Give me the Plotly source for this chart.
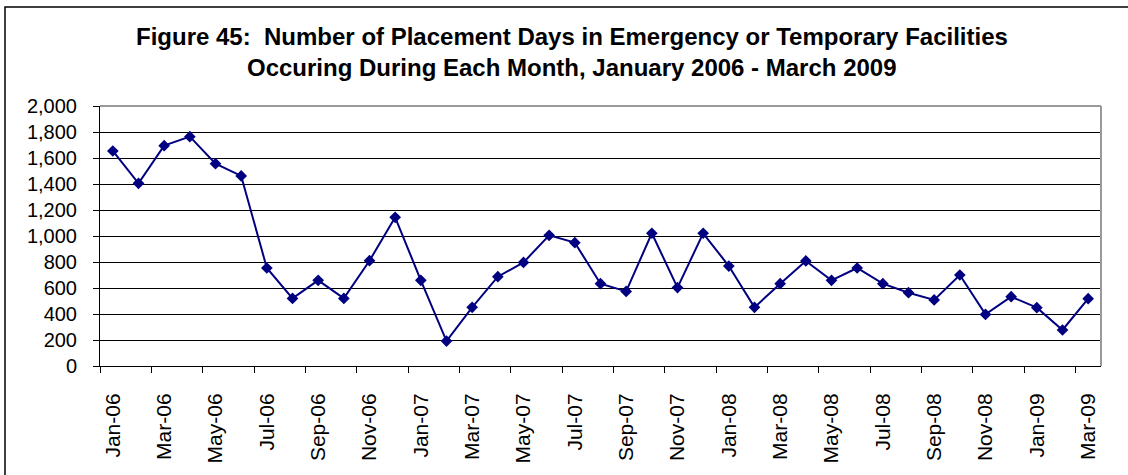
import plotly.graph_objects as go

months = ["Jan-06","Feb-06","Mar-06","Apr-06","May-06","Jun-06","Jul-06","Aug-06","Sep-06","Oct-06","Nov-06","Dec-06",
          "Jan-07","Feb-07","Mar-07","Apr-07","May-07","Jun-07","Jul-07","Aug-07","Sep-07","Oct-07","Nov-07","Dec-07",
          "Jan-08","Feb-08","Mar-08","Apr-08","May-08","Jun-08","Jul-08","Aug-08","Sep-08","Oct-08","Nov-08","Dec-08",
          "Jan-09","Feb-09","Mar-09"]
days = [1654, 1405, 1695, 1764, 1556, 1462, 754, 520, 659, 520, 810, 1144,
        659, 192, 451, 687, 797, 1005, 949, 633, 574, 1021, 603, 1021,
        769, 451, 633, 808, 659, 754, 633, 564, 508, 700, 397, 533,
        449, 277, 518]
title_line1 = "Figure 45:  Number of Placement Days in Emergency or Temporary Facilities"
title_line2 = "Occuring During Each Month, January 2006 - March 2009"
y_ticks = list(range(0, 2001, 200))

W, H = 1128, 475
L, R, T, B = 100, 27, 106, 109
pw, ph = W - L - R, H - T - B

def px(x):
    return (x - L) / pw

def py(y):
    return (H - B - y) / ph

font = "Arial, Liberation Sans, sans-serif"
navy = "#000080"

fig = go.Figure()
fig.add_trace(go.Scatter(
    x=months, y=days, mode="lines+markers",
    line=dict(color=navy, width=2),
    marker=dict(symbol="diamond", size=9, color=navy),
    hoverinfo="x+y", showlegend=False,
))

fig.update_layout(
    width=W, height=H,
    margin=dict(l=L, r=R, t=T, b=B),
    paper_bgcolor="white", plot_bgcolor="white",
    font=dict(family=font, size=20, color="black"),
    xaxis=dict(
        type="category", range=[-0.5, len(months) - 0.5],
        tickmode="linear", tick0=0, dtick=2, tickson="boundaries",
        ticks="outside", ticklen=6, tickcolor="black", tickwidth=1,
        tickangle=-90, showgrid=False, showline=True, linecolor="black", linewidth=1,
        tickfont=dict(family=font, size=21, color="black"),
        ticklabelstandoff=18,
    ),
    yaxis=dict(
        range=[0, 2000], tickvals=y_ticks, tickformat=",",
        ticks="outside", ticklen=6, tickcolor="black", tickwidth=1,
        showgrid=True, gridcolor="black", gridwidth=1, zeroline=False,
        showline=True, linecolor="black", linewidth=1,
        tickfont=dict(family=font, size=20, color="black"),
        ticklabelstandoff=12,
    ),
    shapes=[
        dict(type="line", xref="paper", yref="paper", x0=0, x1=1, y0=1, y1=1,
             line=dict(color="#999999", width=2)),
        dict(type="line", xref="paper", yref="paper", x0=1, x1=1, y0=0, y1=1,
             line=dict(color="#999999", width=2)),
        dict(type="rect", xref="paper", yref="paper", x0=px(5), x1=px(1135), y0=py(482), y1=py(7),
             line=dict(color="black", width=1.5)),
    ],
    annotations=[
        dict(text="<b>" + title_line1 + "</b>", xref="paper", yref="paper", x=px(572), y=py(36),
             xanchor="center", yanchor="middle", showarrow=False, font=dict(family=font, size=24, color="black")),
        dict(text="<b>" + title_line2 + "</b>", xref="paper", yref="paper", x=px(572), y=py(67.5),
             xanchor="center", yanchor="middle", showarrow=False, font=dict(family=font, size=24, color="black")),
    ],
)

fig.write_html("out.html", config={"displayModeBar": False},
               post_script="document.body.style.margin='0';document.body.style.overflow='hidden';")
